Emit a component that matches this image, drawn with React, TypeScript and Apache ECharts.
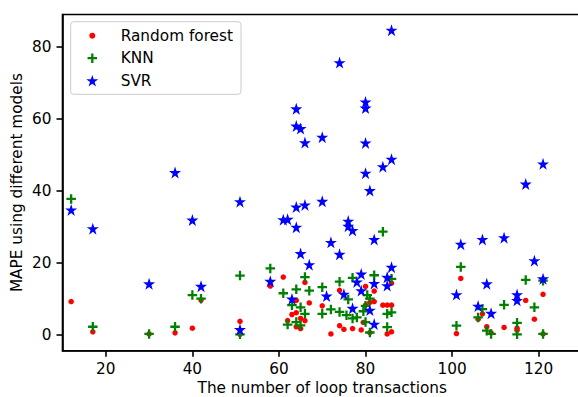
import React, { useEffect, useRef } from "react";
import * as echarts from "echarts";

// [transactions, MAPE]
const rfPoints: [number, number][] = [
  [12, 9.2], [17, 0.8], [30, 0.2], [36, 0.5], [40, 1.8], [42, 9.6], [51, 3.7], [51, 0.1],
  [58, 13.5], [61, 16.0], [62, 3.9], [63, 5.6], [64, 9.5], [64, 6.1], [64, 2.2], [65, 4.5],
  [65, 1.7], [66, 14.5], [66, 3.9], [67, 8.8], [70, 8.0], [72, 0.2],
  [74, 12.3], [74, 2.5], [75, 1.5], [77, 1.7], [79, 1.3], [79.5, 3.4], [80, 13.4], [80, 8.2],
  [81, 9.0], [81, 0.6], [82, 12.1], [82, 9.2], [84, 8.2], [85, 8.2], [86, 8.2], [85, 0.2],
  [86, 0.8], [86, 14.3],
  [101, 0.3], [102, 15.6], [106, 4.3], [107, 5.8], [108, 2.2], [109, 0.5], [112, 2.0],
  [115, 1.8], [115, 1.2], [117, 9.5], [119, 4.3], [121, 11.2], [121, 0.2],
];

const knnPoints: [number, number][] = [
  [12, 37.7], [17, 2.2], [30, 0.2], [36, 2.2], [40, 11.0], [42, 10.0], [51, 16.4], [51, 0.1],
  [58, 18.4], [61, 11.5], [62, 2.8], [63, 8.2], [64, 12.6], [64, 3.5], [65, 7.6], [65, 2.6],
  [66, 16.0], [66, 5.8], [67, 12.2], [70, 13.2], [70, 5.8], [72, 7.0],
  [74, 14.7], [74, 6.3], [75.6, 5.4], [76, 9.8], [77, 15.8], [77, 4.5], [78, 4.8], [79.5, 6.5],
  [80, 8.0], [80, 3.5], [80.4, 11.0], [81, 10.0], [81, 0.6], [82, 16.5], [84, 28.6], [85, 5.8],
  [85, 2.1], [86, 15.5], [86, 6.2],
  [101, 2.5], [102, 18.8], [106, 4.8], [107, 7.1], [108, 1.1], [109, 0.2], [112, 8.3],
  [115, 3.3], [115, 0.1], [117, 15.2], [119, 7.6], [121, 15.0], [121, 0.2],
];

const svrPoints: [number, number][] = [
  [12, 34.5], [17, 29.3], [30, 14.0], [36, 44.9], [40, 31.7], [42, 13.3], [51, 36.8], [51, 1.3],
  [58, 14.7], [61, 31.8], [62, 31.9], [63, 9.8], [64, 62.6], [64, 57.8], [64, 35.3], [64, 29.7],
  [65, 57.1], [65, 22.4], [66, 53.2], [66, 35.9], [67, 19.3], [70, 54.7], [70, 36.9], [71, 10.6],
  [72, 25.5], [74, 75.4], [74, 22.2], [75, 11.1], [76, 31.4], [76, 30.0], [77, 28.8], [77, 7.2],
  [78, 14.5], [79, 16.7], [79, 12.1], [80, 64.5], [80, 62.8], [80, 53.1], [80, 44.7], [81, 39.9],
  [81, 6.7], [82, 26.3], [82, 14.1], [82, 2.8], [84, 46.5], [85, 15.8], [85, 13.5], [86, 84.4],
  [86, 48.6], [86, 18.6],
  [101, 11.0], [102, 25.0], [106, 7.8], [107, 26.3], [108, 14.0], [109, 5.8], [112, 26.8],
  [115, 11.0], [115, 9.4], [117, 41.7], [119, 20.4], [121, 47.3], [121, 15.4],
];

const seriesNames = ["Random forest", "KNN", "SVR"];
const xTicks = [20, 40, 60, 80, 100, 120];
const yTicks = [0, 20, 40, 60, 80];

const FONT = "DejaVu Sans";
const FS = 15.3;

const PLUS_PATH = "path://M3.8,0H6.2V3.8H10V6.2H6.2V10H3.8V6.2H0V3.8H3.8Z";
const STAR_PATH =
  "path://M100,0L122.45,69.1L195.11,69.1L136.33,111.8L158.78,180.9L100,138.2L41.22,180.9L63.67,111.8L4.89,69.1L77.55,69.1Z";

function starPoints(cx: number, cy: number, r: number): number[][] {
  const pts: number[][] = [];
  for (let i = 0; i < 10; i++) {
    const ang = (90 - i * 36) * (Math.PI / 180);
    const rr = i % 2 === 0 ? r : r * 0.382;
    pts.push([cx + rr * Math.cos(ang), cy - rr * Math.sin(ang)]);
  }
  return pts;
}

function plusPoints(cx: number, cy: number, s: number, t: number): number[][] {
  const h = s / 2;
  const a = t / 2;
  return [
    [cx - a, cy - h], [cx + a, cy - h], [cx + a, cy - a], [cx + h, cy - a],
    [cx + h, cy + a], [cx + a, cy + a], [cx + a, cy + h], [cx - a, cy + h],
    [cx - a, cy + a], [cx - h, cy + a], [cx - h, cy - a], [cx - a, cy - a],
  ];
}

export default function App() {
  const ref = useRef<HTMLDivElement>(null);

  useEffect(() => {
    if (!ref.current) return;
    const chart = echarts.init(ref.current, null, { renderer: "svg" });

    const legX = 70.7;
    const legY = 21.7;
    const rows = [35.7, 58.2, 80.8];
    const markerX = 92.3;
    const textX = 120.7;

    chart.setOption({
      animation: false,
      backgroundColor: "#ffffff",
      grid: {
        left: 62.5,
        top: 14.5,
        width: 519.5,
        height: 336.2,
        show: true,
        borderColor: "#000000",
        borderWidth: 1.6,
        containLabel: false,
        outerBoundsMode: "none",
      },
      xAxis: {
        type: "value",
        min: 10,
        max: 130,
        name: "The number of loop transactions",
        nameLocation: "middle",
        nameGap: 30,
        nameMoveOverlap: false,
        nameTextStyle: { fontFamily: FONT, fontSize: FS, color: "#000" },
        axisLine: { show: true, onZero: false, lineStyle: { color: "#000", width: 1.6 } },
        axisTick: { show: true, inside: false, length: 6, lineStyle: { color: "#000", width: 1.6 }, customValues: xTicks },
        axisLabel: { fontFamily: FONT, fontSize: FS, color: "#000", margin: 11, customValues: xTicks },
        splitLine: { show: false },
      },
      yAxis: {
        type: "value",
        min: -4.45,
        max: 88.9,
        name: "MAPE using different models",
        nameLocation: "middle",
        nameGap: 38,
        nameMoveOverlap: false,
        nameRotate: 90,
        nameTextStyle: { fontFamily: FONT, fontSize: FS, color: "#000" },
        axisLine: { show: true, onZero: false, lineStyle: { color: "#000", width: 1.6 } },
        axisTick: { show: true, inside: false, length: 6, lineStyle: { color: "#000", width: 1.6 }, customValues: yTicks },
        axisLabel: { fontFamily: FONT, fontSize: FS, color: "#000", margin: 11, customValues: yTicks },
        splitLine: { show: false },
      },
      series: [
        {
          name: seriesNames[0],
          type: "scatter",
          data: rfPoints,
          symbol: "circle",
          symbolSize: 5.5,
          itemStyle: { color: "#ff0000", opacity: 1 },
          z: 2,
        },
        {
          name: seriesNames[1],
          type: "scatter",
          data: knnPoints,
          symbol: PLUS_PATH,
          symbolSize: 9.5,
          itemStyle: { color: "#008000", opacity: 1 },
          z: 3,
        },
        {
          name: seriesNames[2],
          type: "scatter",
          data: svrPoints,
          symbol: STAR_PATH,
          symbolSize: 12,
          symbolOffset: [0, -0.5],
          itemStyle: { color: "#0000ff", opacity: 1 },
          z: 4,
        },
      ],
      graphic: [
        {
          type: "rect",
          z: 100,
          shape: { x: legX, y: legY, width: 170.3, height: 72.6, r: 3 },
          style: { fill: "rgba(255,255,255,0.8)", stroke: "#cccccc", lineWidth: 1 },
        },
        {
          type: "circle",
          z: 101,
          shape: { cx: markerX, cy: rows[0], r: 3 },
          style: { fill: "#ff0000" },
        },
        {
          type: "polygon",
          z: 101,
          shape: { points: plusPoints(markerX, rows[1], 9.5, 2.3) },
          style: { fill: "#008000" },
        },
        {
          type: "polygon",
          z: 101,
          shape: { points: starPoints(markerX, rows[2] + 0.5, 6.3) },
          style: { fill: "#0000ff" },
        },
        ...seriesNames.map((n, i) => ({
          type: "text",
          z: 101,
          x: textX,
          y: rows[i],
          style: {
            text: n,
            fontFamily: FONT,
            fontSize: FS,
            fill: "#000",
            verticalAlign: "middle",
            align: "left",
          },
        })),
      ],
    });

    return () => chart.dispose();
  }, []);

  return (
    <div
      ref={ref}
      style={{ position: "absolute", left: 0, top: 0, width: 578, height: 397 }}
    />
  );
}
